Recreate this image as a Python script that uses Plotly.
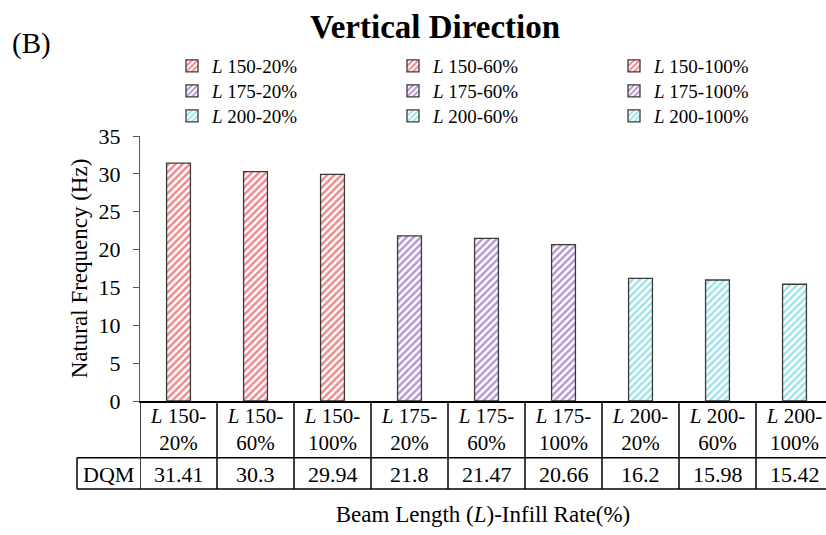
import plotly.graph_objects as go

# ---- data ----
beam_lengths = ["150", "150", "150", "175", "175", "175", "200", "200", "200"]
infill_rates = ["20%", "60%", "100%", "20%", "60%", "100%", "20%", "60%", "100%"]
dqm_values = [31.41, 30.3, 29.94, 21.8, 21.47, 20.66, 16.2, 15.98, 15.42]
series_colors = ["#E0141E", "#E0141E", "#E0141E",
                 "#7030A0", "#7030A0", "#7030A0",
                 "#3CC8D2", "#3CC8D2", "#3CC8D2"]
row_label = "DQM"
title_text = "Vertical Direction"
panel_label = "(B)"
y_title = "Natural Frequency (Hz)"
x_title = "Beam Length (<i>L</i>)-Infill Rate(%)"

FONT = "Liberation Serif"

categories = [f"L {b}-{r}" for b, r in zip(beam_lengths, infill_rates)]
names = [f"<i>L</i> {b}-{r}" for b, r in zip(beam_lengths, infill_rates)]
ticktexts = [f"<i>L</i> {b}-<br>{r}" for b, r in zip(beam_lengths, infill_rates)]

W, H = 826, 535
ML, MR, MT, MB = 140, 0, 136, 134
plot_w = W - ML - MR
plot_h = H - MT - MB
cat_px = 77.0  # width of one category column in pixels
x_max = -0.5 + plot_w / cat_px

fig = go.Figure()
legend_ids = ["legend", "legend2", "legend3"]
for i, (cat, val, name, col) in enumerate(zip(categories, dqm_values, names, series_colors)):
    fig.add_trace(go.Bar(
        x=[cat], y=[val], name=name, width=0.31,
        legend=legend_ids[i // 3],
        marker=dict(color="white",
                    line=dict(color="#3a3a3a", width=1.3),
                    pattern=dict(shape="/", fgcolor=col, bgcolor="white",
                                 size=5, solidity=0.5, fillmode="overlay")),
        hovertemplate="%{x}: %{y}<extra></extra>",
    ))

def py(pix):
    return (MT + plot_h - pix) / plot_h

def px(pix):
    return (pix - ML) / plot_w

shapes = []
y_row1 = py(457.7)
y_bot = py(489)
x_dqm_left = px(77)
# vertical column borders
for i in range(len(categories) + 1):
    shapes.append(dict(type="line", xref="x", yref="paper", x0=i - 0.5, x1=i - 0.5,
                       y0=0, y1=y_bot, line=dict(color="black", width=1.5)))
# horizontal borders
for yy in (y_row1, y_bot):
    shapes.append(dict(type="line", xref="paper", yref="paper", x0=x_dqm_left, x1=1,
                       y0=yy, y1=yy, line=dict(color="black", width=1.5)))
shapes.append(dict(type="line", xref="paper", yref="paper", x0=x_dqm_left, x1=x_dqm_left,
                   y0=y_row1, y1=y_bot, line=dict(color="black", width=1.5)))

annotations = []
y_dqm = py(474)
for cat, val in zip(categories, dqm_values):
    annotations.append(dict(x=cat, y=y_dqm, xref="x", yref="paper", text=f"{val:g}",
                            showarrow=False, xanchor="center", yanchor="middle",
                            font=dict(family=FONT, size=22, color="black")))
annotations.append(dict(x=px(108.5), y=y_dqm, xref="paper", yref="paper", text=row_label,
                        showarrow=False, xanchor="center", yanchor="middle",
                        font=dict(family=FONT, size=22, color="black")))
annotations.append(dict(x=px(32), y=py(43), xref="paper", yref="paper", text=panel_label,
                        showarrow=False, xanchor="center", yanchor="middle",
                        font=dict(family=FONT, size=29, color="black")))

leg_common = dict(orientation="h", xanchor="left", yanchor="middle", x=px(172),
                  entrywidth=176, entrywidthmode="pixels", itemwidth=30,
                  font=dict(family=FONT, size=19, color="black"),
                  bgcolor="rgba(0,0,0,0)", tracegroupgap=0)

fig.update_layout(
    width=W, height=H,
    margin=dict(l=ML, r=MR, t=MT, b=MB, autoexpand=False),
    paper_bgcolor="white", plot_bgcolor="white",
    barmode="overlay",
    showlegend=True,
    font=dict(family=FONT, color="black"),
    title=dict(text=f"<b>{title_text}</b>", xref="container", yref="container",
               x=435 / W, y=1 - 26 / H, xanchor="center", yanchor="middle",
               font=dict(family=FONT, size=33, color="black")),
    legend=dict(**leg_common, y=py(66)),
    legend2=dict(**leg_common, y=py(91)),
    legend3=dict(**leg_common, y=py(116)),
    xaxis=dict(type="category", categoryorder="array", categoryarray=categories,
               range=[-0.5, x_max], tickvals=categories, ticktext=ticktexts,
               showline=True, linecolor="black", linewidth=1.5, ticks="",
               showgrid=False, zeroline=False, ticklabelstandoff=-5,
               tickfont=dict(family=FONT, size=21, color="black"),
               title=dict(text=x_title, standoff=52,
                          font=dict(family=FONT, size=23, color="black"))),
    yaxis=dict(range=[0, 35], dtick=5, tick0=0, showline=True, linecolor="#555555",
               linewidth=1.3, ticks="outside", ticklen=6, tickcolor="#555555",
               tickwidth=1.3, showgrid=False, zeroline=False, ticklabelstandoff=8,
               tickfont=dict(family=FONT, size=22, color="black"),
               title=dict(text=y_title, standoff=4,
                          font=dict(family=FONT, size=23, color="black"))),
    shapes=shapes,
    annotations=annotations,
)

fig.write_html("out.html")
